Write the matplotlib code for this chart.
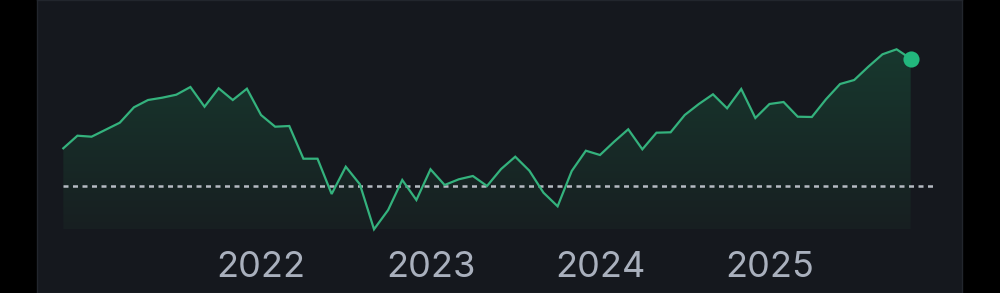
import numpy as np
import matplotlib
matplotlib.use("Agg")
import matplotlib.pyplot as plt
from matplotlib.colors import LinearSegmentedColormap

# monthly values, Nov 2020 .. Nov 2025
values = [144.7, 157.3, 156.3, 163.3, 170.3, 185.7, 193.0, 195.3, 198.3, 206.0,
          186.3, 204.7, 193.0, 204.3, 178.0, 166.3, 167.0, 134.3, 134.3, 99.0,
          126.3, 108.7, 63.7, 83.0, 113.0, 93.0, 123.7, 108.0, 113.7, 117.0,
          107.0, 124.0, 136.3, 122.3, 100.3, 86.7, 122.0, 142.3, 138.0, 151.3,
          163.7, 143.7, 160.3, 160.7, 178.0, 189.0, 198.7, 184.7, 204.0, 175.0,
          189.0, 191.0, 176.3, 176.0, 193.7, 209.0, 213.0, 226.3, 238.7, 243.7,
          234.3]
reference = 106.7
year_labels = ["2022", "2023", "2024", "2025"]
year_pos = [14, 26, 38, 50]

bg = "#15181e"
line_c = "#34b27d"

x = np.arange(len(values))
y = np.array(values)

fig = plt.figure(figsize=(10, 2.93), dpi=100)
fig.patch.set_facecolor("black")

ax = fig.add_axes([0.037, 0, 0.925, 1])
ax.set_facecolor(bg)
for s in ax.spines.values():
    s.set_color("#22262d")
    s.set_linewidth(1.0)
ax.set_xticks([])
ax.set_yticks([])
px = 60 / 847.4
xlim = (0 - (63.3 - 37) * px, 60 + (962 - 910.7) * px)

# gradient fill under the line
base = y.min()
cmap = LinearSegmentedColormap.from_list("g", ["#181f21", "#17382e"])
grad = np.linspace(0, 1, 256).reshape(-1, 1)
im = ax.imshow(grad, cmap=cmap, origin="lower", aspect="auto",
               extent=[x[0], x[-1], base, y.max()], zorder=1)
poly = ax.fill_between(x, y, base, facecolor="none", edgecolor="none")
clip = poly.get_paths()[0]
im.set_clip_path(clip, transform=ax.transData)
ax.set_xlim(*xlim)
ax.set_ylim(0, 293)

ax.plot(x, y, color=line_c, lw=1.6, zorder=3, solid_joinstyle="miter")
ax.plot([x[0], 61.55], [reference, reference], color="#b5bac2", lw=1.8,
        dashes=(2.0, 1.8), zorder=2)
ax.scatter([x[-1]], [y[-1]], s=135, color="#22b77d", zorder=4, linewidths=0)

for lab, p in zip(year_labels, year_pos):
    ax.text(p, 16.3, lab, ha="center", va="baseline", fontsize=26,
            color="#a9b0bd", family="Inter")

fig.savefig("out.png", dpi=100, facecolor=fig.get_facecolor())
